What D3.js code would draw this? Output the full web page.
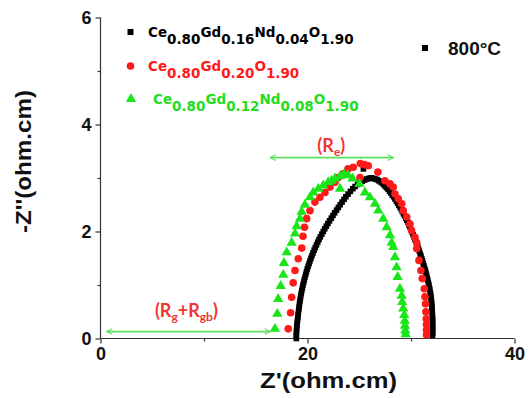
<!DOCTYPE html>
<html><head><meta charset="utf-8">
<script src="https://cdn.jsdelivr.net/npm/d3@7"></script>
<style>
html,body{margin:0;padding:0;background:#fff;}
svg{display:block;}
</style></head>
<body>
<svg id="chart" width="529" height="398"></svg>
<script>
// ---- data ----
const xTicks = [0, 20, 40];
const xMinor = [10, 30];
const yTicks = [0, 2, 4, 6];
const yMinor = [1, 3, 5];

// Ce0.80Gd0.16Nd0.04O1.90  (black squares)  [Z', -Z'']
const blackPts = [
 [18.92,0.00],[18.92,0.05],[18.93,0.10],[18.94,0.15],[18.96,0.20],[18.98,0.25],[19.01,0.30],[19.04,0.35],[19.07,0.40],[19.10,0.45],
 [19.13,0.50],[19.16,0.55],[19.20,0.60],[19.23,0.65],[19.27,0.70],[19.31,0.75],[19.35,0.80],[19.40,0.85],[19.45,0.90],[19.51,0.95],
 [19.56,1.00],[19.63,1.05],[19.69,1.10],[19.76,1.15],[19.83,1.20],[19.90,1.25],[19.98,1.30],[20.06,1.35],[20.15,1.40],[20.24,1.45],
 [20.33,1.50],[20.43,1.55],[20.53,1.60],[20.64,1.65],[20.75,1.70],[20.87,1.75],[20.99,1.80],[21.11,1.85],[21.24,1.90],[21.38,1.95],
 [21.52,2.00],[21.67,2.05],[21.82,2.10],[21.97,2.15],[22.13,2.20],[22.30,2.25],[22.46,2.30],[22.63,2.35],[22.81,2.40],[22.98,2.45],
 [23.16,2.50],[23.34,2.55],[23.53,2.60],[23.71,2.65],[23.92,2.70],[24.14,2.75],[24.38,2.80],[24.60,2.84],[24.84,2.88],[25.06,2.91],
 [25.29,2.94],[25.51,2.96],[25.73,2.98],[25.90,2.99],[26.06,3.00],[26.23,3.00],[26.40,2.99],[26.56,2.98],[26.72,2.97],[26.88,2.95],
 [27.04,2.93],[27.19,2.91],[27.34,2.88],[27.49,2.85],[27.63,2.82],[27.78,2.79],[27.92,2.75],[28.06,2.72],[28.19,2.68],[28.32,2.65],
 [28.45,2.61],[28.58,2.57],[28.70,2.53],[28.82,2.49],[28.94,2.45],[29.06,2.41],[29.17,2.37],[29.28,2.33],[29.39,2.29],[29.50,2.25],
 [29.60,2.21],[29.71,2.17],[29.81,2.12],[29.91,2.08],[30.01,2.03],[30.11,1.99],[30.20,1.94],[30.29,1.90],[30.38,1.85],[30.47,1.81],
 [30.56,1.76],[30.65,1.72],[30.73,1.67],[30.81,1.63],[30.89,1.58],[30.97,1.54],[31.04,1.49],[31.11,1.45],[31.18,1.40],[31.25,1.36],
 [31.32,1.31],[31.39,1.27],[31.45,1.22],[31.51,1.18],[31.57,1.13],[31.63,1.09],[31.68,1.04],[31.73,1.00],[31.78,0.95],[31.82,0.91],
 [31.86,0.86],[31.90,0.82],[31.93,0.77],[31.96,0.73],[31.98,0.68],[32.00,0.64],[32.02,0.59],[32.04,0.55],[32.05,0.50],[32.06,0.46],
 [32.07,0.41],[32.08,0.37],[32.08,0.32],[32.09,0.28],[32.09,0.23],[32.09,0.19],[32.09,0.14],[32.09,0.10],[32.08,0.06],
 [25.40,3.17]
];

// Ce0.80Gd0.20O1.90  (red circles)
const redZre = [18.14,18.37,18.47,18.62,18.79,19.11,19.44,19.56,19.71,19.92,20.24,20.72,21.20,21.69,22.17,22.65,22.97,23.45,23.91,24.42,25.10,25.50,25.87,25.07,26.80,27.48,27.97,28.28,28.45,28.77,29.10,29.25,29.58,29.90,30.06,30.38,30.55,30.55,30.77,30.96,31.09,31.28,31.35,31.40,31.44,31.47,31.49,31.50,31.50];
const redZim = [0.18,0.48,0.77,1.04,1.27,1.49,1.69,1.91,2.08,2.24,2.39,2.55,2.64,2.73,2.83,2.92,3.01,3.08,3.17,3.20,3.27,3.25,3.23,3.01,3.11,2.95,2.89,2.83,2.70,2.61,2.52,2.39,2.27,2.14,2.02,1.89,1.79,1.68,1.46,1.27,1.12,0.93,0.78,0.65,0.50,0.37,0.26,0.16,0.07];

// Ce0.80Gd0.12Nd0.08O1.90  (green triangles)
const greenZre = [16.85,17.08,17.17,17.41,17.66,17.72,17.99,18.47,18.79,18.95,19.27,19.43,19.75,20.24,20.56,21.04,21.52,22.00,22.33,22.65,23.14,23.52,23.91,23.14,24.35,25.02,25.55,26.03,26.52,26.84,27.32,27.65,27.97,28.13,28.28,28.45,28.61,28.71,28.93,29.10,29.15,29.25,29.35,29.40,29.42,29.45,29.48];
const greenZim = [0.18,0.46,0.74,0.98,1.19,1.41,1.61,1.79,1.96,2.10,2.24,2.37,2.50,2.64,2.73,2.80,2.86,2.92,2.95,2.99,3.03,3.07,3.05,2.80,2.99,2.89,2.73,2.64,2.52,2.39,2.24,2.08,1.93,1.79,1.71,1.52,1.33,1.15,0.93,0.80,0.68,0.56,0.44,0.33,0.24,0.15,0.08];

const seriesNames = [
  [["Ce","0.80"],["Gd","0.16"],["Nd","0.04"],["O","1.90"]],
  [["Ce","0.80"],["Gd","0.20"],["O","1.90"]],
  [["Ce","0.80"],["Gd","0.12"],["Nd","0.08"],["O","1.90"]]
];
const tempLabel = "800°C";
const xTitle = "Z'(ohm.cm)";
const yTitle = "-Z''(ohm.cm)";
const annRe = ["(R", "e", ")"];
const annRg = ["(R", "g", "+R", "gb", ")"];

// ---- layout ----
const svg = d3.select("#chart");
const x = d3.scaleLinear().domain([0, 40]).range([100.5, 514.5]);
const y = d3.scaleLinear().domain([0, 6]).range([338.5, 17.5]);

const BLACK = "#000", RED = "#ff1a1a", GREEN = "#19e619", ARROW = "#5ee05e", ANN = "#f03535";
const tickFont = "'Liberation Sans', Arial, sans-serif";

// axes
const xAxis = svg.append("g").attr("transform", `translate(0,${y(0)})`)
  .call(d3.axisBottom(x).tickValues(xTicks).tickSize(5).tickPadding(4).tickFormat(d3.format("d")));
const xAxisMinor = svg.append("g").attr("transform", `translate(0,${y(0)})`)
  .call(d3.axisBottom(x).tickValues(xMinor).tickSize(3).tickFormat(""));
xAxisMinor.select(".domain").remove();
const yAxis = svg.append("g").attr("transform", `translate(${x(0)},0)`)
  .call(d3.axisLeft(y).tickValues(yTicks).tickSize(5).tickPadding(4).tickFormat(d3.format("d")));
const yAxisMinor = svg.append("g").attr("transform", `translate(${x(0)},0)`)
  .call(d3.axisLeft(y).tickValues(yMinor).tickSize(3).tickFormat(""));
yAxisMinor.select(".domain").remove();
[xAxis, yAxis, xAxisMinor, yAxisMinor].forEach(g => {
  g.selectAll(".domain").attr("stroke", "#333").attr("stroke-width", 1.2);
  g.selectAll(".tick line").attr("stroke", "#333").attr("stroke-width", 1.2);
  g.selectAll(".tick text").attr("font-family", tickFont).attr("font-weight", "bold")
    .attr("font-size", 18).attr("fill", "#111");
});
xAxis.select(".domain").attr("d", `M${x(0)},0H${x(40)}`);
yAxis.select(".domain").attr("d", `M0,${y(0)}V${y(6)}`);

// axis titles
svg.append("text").attr("x", 328.5).attr("y", 388).attr("text-anchor", "middle")
  .attr("font-family", tickFont).attr("font-weight", "bold").attr("font-size", 22).attr("fill", "#111")
  .attr("textLength", 137).attr("lengthAdjust", "spacingAndGlyphs")
  .text(xTitle);
svg.append("text").attr("transform", "translate(31,161.5) rotate(-90)").attr("text-anchor", "middle")
  .attr("font-family", tickFont).attr("font-weight", "bold").attr("font-size", 22).attr("fill", "#111")
  .attr("textLength", 143).attr("lengthAdjust", "spacingAndGlyphs")
  .text(yTitle);

// data marks
const zip = (a, b) => a.map((v, i) => [v, b[i]]);
const green = zip(greenZre, greenZim), red = zip(redZre, redZim);

svg.append("g").selectAll("rect").data(blackPts).join("rect")
  .attr("x", d => x(d[0]) - 2.8).attr("y", d => y(d[1]) - 2.8).attr("width", 5.6).attr("height", 5.6).attr("fill", BLACK);
svg.append("g").selectAll("circle").data(red).join("circle")
  .attr("cx", d => x(d[0])).attr("cy", d => y(d[1])).attr("r", 3.8).attr("fill", RED);
const tri = d3.symbol().type(d3.symbolTriangle).size(46);
svg.append("g").selectAll("path").data(green).join("path")
  .attr("transform", d => `translate(${x(d[0])},${y(d[1])})`).attr("d", tri).attr("fill", GREEN);

// arrows
const defs = svg.append("defs");
defs.append("marker").attr("id", "ah").attr("viewBox", "0 0 10 10").attr("refX", 9).attr("refY", 5)
  .attr("markerWidth", 7).attr("markerHeight", 7).attr("orient", "auto-start-reverse")
  .attr("markerUnits", "userSpaceOnUse")
  .append("path").attr("d", "M1,1 L9,5 L1,9").attr("fill", "none").attr("stroke", ARROW).attr("stroke-width", 1.6);
function arrow(x0, x1, yy) {
  svg.append("line").attr("x1", x(x0)).attr("x2", x(x1)).attr("y1", y(yy)).attr("y2", y(yy))
    .attr("stroke", ARROW).attr("stroke-width", 1.8)
    .attr("marker-start", "url(#ah)").attr("marker-end", "url(#ah)");
}
arrow(16.4, 28.3, 3.38);
arrow(0.6, 16.4, 0.13);

function annText(parts, cx, cy) {
  const t = svg.append("text").attr("x", cx).attr("y", cy).attr("text-anchor", "middle")
    .attr("font-family", "Lato, 'Open Sans', sans-serif").attr("font-weight", "bold").attr("font-size", 18).attr("fill", ANN);
  parts.forEach((p, i) => {
    const isSub = i % 2 === 1;
    const ts = t.append("tspan").text(p);
    if (isSub) ts.attr("font-size", 12).attr("dy", 4);
    else if (i > 0) ts.attr("dy", -4);
  });
}
annText(annRe, x(22.3), y(3.49));
annText(annRg, x(8.3), y(0.41));

// legend
const legFont = "'DejaVu Sans', sans-serif";
const legColors = [BLACK, RED, "#22dd22"];
const legY = [32, 66, 99];
const legTx = [148, 148, 153];
legY.forEach((ly, i) => {
  if (i === 0) svg.append("rect").attr("x", 127.5).attr("y", ly - 3).attr("width", 6).attr("height", 6).attr("fill", BLACK);
  if (i === 1) svg.append("circle").attr("cx", 130.5).attr("cy", ly).attr("r", 3.8).attr("fill", RED);
  if (i === 2) svg.append("path").attr("transform", `translate(131,${ly})`).attr("d", tri).attr("fill", GREEN);
  const t = svg.append("text").attr("x", legTx[i]).attr("y", ly + 5)
    .attr("font-family", legFont).attr("font-weight", "bold").attr("font-size", 13.5).attr("fill", legColors[i]);
  seriesNames[i].forEach(([el, sub], j) => {
    t.append("tspan").attr("dy", j === 0 ? 0 : -7).text(el);
    t.append("tspan").attr("dy", 7).text(sub);
  });
});
svg.append("rect").attr("x", 422).attr("y", 45).attr("width", 6).attr("height", 6).attr("fill", BLACK);
svg.append("text").attr("x", 448).attr("y", 55).attr("font-family", tickFont).attr("font-weight", "bold")
  .attr("font-size", 19).attr("fill", "#111").text(tempLabel);
</script>
</body></html>
